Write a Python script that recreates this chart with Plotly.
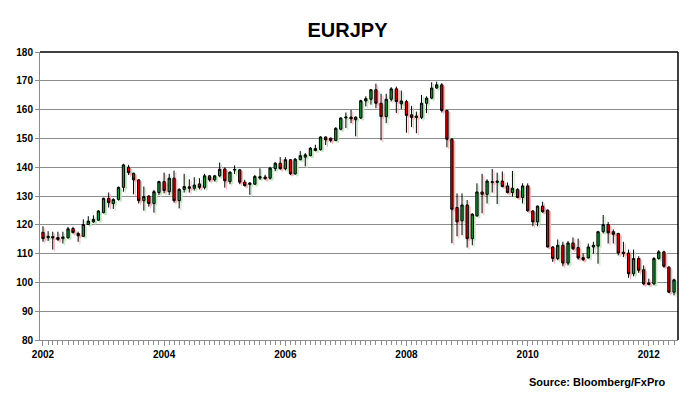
import pandas as pd
import plotly.graph_objects as go

start_month = "2002-01-01"

opens = [117.4, 115.5, 115.9, 115.6, 115.2, 115.5, 118.7, 117.0, 116.0, 120.1, 121.0, 121.6,
         124.2, 129.2, 127.4, 128.8, 133.0, 140.0, 137.9, 135.6, 128.4, 130.0, 127.4, 131.2,
         135.0, 131.5, 136.2, 128.4, 132.3, 133.2, 132.7, 134.2, 133.0, 137.0, 135.6, 137.0,
         139.4, 135.0, 139.0, 139.1, 134.8, 134.0, 134.1, 136.2, 136.6, 136.2, 139.5, 141.4,
         139.5, 142.6, 137.7, 142.6, 143.5, 144.0, 145.8, 146.1, 150.5, 150.1, 149.3, 153.2,
         157.1, 157.4, 156.5, 157.1, 163.0, 163.6, 166.9, 162.2, 157.6, 163.6, 167.2, 162.0,
         162.8, 158.2, 157.8, 157.3, 162.2, 164.0, 167.5, 168.6, 159.7, 149.7, 126.0, 121.4,
         126.9, 115.2, 123.1, 131.4, 130.6, 135.0, 134.7, 135.2, 133.5, 131.2, 132.3, 129.5,
         133.5, 124.8, 121.0, 126.5, 125.1, 112.3, 108.3, 112.9, 106.7, 113.7, 112.1, 108.6,
         108.5, 112.3, 112.6, 117.6, 120.1, 117.6, 117.0, 110.5, 110.2, 103.0, 108.3, 104.4,
         99.8, 99.5, 108.3, 110.6, 105.3, 96.6]

highs = [119.5, 117.8, 117.6, 117.6, 117.6, 119.3, 119.3, 117.6, 121.9, 123.0, 123.3, 125.1,
         129.4, 131.2, 129.2, 133.3, 141.2, 140.8, 138.1, 135.8, 133.3, 130.3, 132.1, 135.3,
         138.1, 137.7, 138.8, 132.7, 137.7, 135.8, 136.5, 136.2, 137.7, 137.2, 137.3, 141.6,
         139.9, 138.5, 140.6, 139.4, 135.6, 134.8, 137.3, 139.6, 137.4, 140.1, 141.7, 143.5,
         143.5, 142.8, 143.2, 145.6, 144.9, 147.0, 147.8, 150.7, 150.7, 150.3, 153.9, 157.3,
         159.0, 159.9, 157.6, 163.4, 164.6, 167.1, 169.0, 165.5, 165.5, 167.8, 168.0, 166.6,
         163.4, 161.3, 159.3, 165.1, 164.6, 169.5, 169.7, 169.2, 159.9, 150.1, 130.9, 130.9,
         128.6, 124.0, 134.4, 137.7, 135.8, 139.4, 138.1, 138.5, 134.7, 138.7, 132.7, 134.4,
         134.4, 125.1, 126.7, 128.0, 125.3, 112.6, 114.9, 114.1, 114.4, 115.6, 115.2, 110.0,
         113.5, 114.1, 117.9, 123.4, 121.0, 118.4, 117.2, 114.1, 111.4, 111.4, 109.1, 105.9,
         101.3, 108.8, 111.2, 111.0, 105.6, 101.3]

lows = [114.1, 114.4, 111.4, 114.4, 113.5, 115.2, 117.0, 114.1, 115.8, 119.9, 120.7, 121.4,
        124.0, 126.0, 125.5, 128.4, 131.5, 137.3, 130.6, 127.4, 124.9, 126.3, 124.2, 130.3,
        130.9, 130.3, 127.7, 125.7, 131.2, 131.2, 131.9, 132.3, 132.3, 135.0, 135.0, 136.5,
        132.9, 134.1, 137.6, 134.1, 133.3, 130.4, 133.9, 135.6, 135.7, 135.7, 138.6, 139.1,
        138.9, 137.3, 137.4, 142.4, 140.3, 143.8, 145.5, 145.8, 147.7, 148.6, 149.0, 152.8,
        153.6, 155.3, 150.7, 156.7, 161.1, 161.7, 160.5, 149.3, 155.3, 162.8, 158.8, 160.2,
        152.0, 153.9, 151.8, 156.7, 158.8, 163.6, 167.2, 159.0, 146.9, 113.6, 116.0, 116.4,
        112.1, 112.9, 122.8, 124.0, 127.4, 131.2, 127.2, 133.0, 130.9, 129.8, 129.2, 127.4,
        124.5, 119.5, 119.5, 124.2, 112.1, 107.1, 107.7, 105.6, 105.9, 111.2, 107.9, 107.4,
        108.3, 110.0, 106.5, 117.0, 113.5, 113.5, 109.4, 108.8, 101.6, 102.1, 103.3, 99.0,
        99.0, 99.0, 107.9, 105.1, 96.3, 95.5]

closes = [115.2, 116.0, 115.5, 114.9, 115.8, 118.6, 117.3, 116.2, 120.1, 121.3, 121.9, 124.8,
          129.2, 127.7, 128.8, 133.0, 140.8, 138.1, 135.6, 128.4, 129.8, 127.4, 131.5, 135.0,
          131.9, 136.2, 128.4, 132.3, 133.3, 132.7, 133.8, 133.0, 137.0, 135.6, 137.0, 139.3,
          135.3, 138.3, 139.2, 134.8, 133.6, 134.5, 136.8, 136.7, 136.0, 139.7, 141.4, 139.5,
          142.6, 137.7, 142.8, 144.0, 144.3, 146.6, 146.5, 150.5, 149.5, 149.3, 153.5, 157.1,
          157.4, 156.8, 157.4, 163.1, 163.8, 166.9, 162.2, 157.6, 163.6, 167.2, 162.8, 163.0,
          158.0, 157.3, 157.3, 162.2, 164.0, 167.5, 168.6, 159.7, 149.7, 125.4, 121.0, 126.9,
          115.2, 123.7, 131.4, 130.6, 135.2, 134.7, 135.2, 133.3, 131.2, 132.7, 129.5, 133.5,
          124.9, 121.0, 126.5, 124.5, 112.3, 108.3, 112.9, 106.7, 113.7, 111.7, 108.5, 107.9,
          112.3, 112.9, 117.6, 120.1, 117.2, 116.7, 110.2, 110.0, 103.0, 108.3, 104.2, 99.5,
          99.3, 108.3, 110.6, 105.6, 96.6, 100.9]

months = pd.date_range(start_month, periods=len(closes), freq="MS")

y_ticks = [80, 90, 100, 110, 120, 130, 140, 150, 160, 170, 180]

font_family = "Liberation Sans, Arial, sans-serif"
grid_color = "#8c8c8c"

x_range = ["2001-12-14", "2012-06-25"]
# shadow axes: same scale, shifted ~2px right / ~2px down
x_range_shadow = ["2001-12-03", "2012-06-14"]
y_range = [80, 180]
y_range_shadow = [80.6, 180.6]

fig = go.Figure()
# invisible trace that keeps the base (visible) axes alive
fig.add_trace(go.Scatter(
    x=months, y=closes, mode="lines", line=dict(width=0, color="rgba(0,0,0,0)"),
    hoverinfo="skip", showlegend=False,
))
# soft drop shadow of the candles (same data, drawn on offset overlay axes)
fig.add_trace(go.Candlestick(
    x=months, open=opens, high=highs, low=lows, close=closes,
    increasing=dict(fillcolor="#c2e8c2", line=dict(color="#c2e8c2", width=1)),
    decreasing=dict(fillcolor="#f5b5b5", line=dict(color="#f5b5b5", width=1)),
    whiskerwidth=0, showlegend=False, hoverinfo="skip",
    xaxis="x2", yaxis="y2",
))
# main candles on the top-most overlay
fig.add_trace(go.Candlestick(
    x=months, open=opens, high=highs, low=lows, close=closes,
    increasing=dict(fillcolor="#1f9138", line=dict(color="#000000", width=1)),
    decreasing=dict(fillcolor="#d40000", line=dict(color="#000000", width=1)),
    whiskerwidth=0,
    showlegend=False,
    xaxis="x3", yaxis="y3",
))

fig.update_layout(
    width=695, height=395,
    margin=dict(l=40, r=17, t=52, b=55),
    paper_bgcolor="white", plot_bgcolor="white",
    title=dict(text="<b>EURJPY</b>", x=0.5, xanchor="center", y=0.925, yanchor="middle",
               font=dict(family=font_family, size=20, color="#000000")),
    font=dict(family=font_family, size=10, color="#000000"),
    xaxis=dict(
        type="date",
        range=x_range,
        rangeslider=dict(visible=False),
        tick0="2002-01-01", dtick="M24", tickformat="%Y",
        ticks="outside", ticklen=5, tickcolor=grid_color,
        showline=True, linecolor=grid_color, linewidth=1,
        showgrid=False, zeroline=False,
        tickfont=dict(family=font_family, size=10, color="#000000", weight="bold"),
        minor=dict(dtick="M1", tick0="2002-01-01", ticks="outside", ticklen=4,
                   tickcolor=grid_color, showgrid=False),
    ),
    xaxis2=dict(type="date", range=x_range_shadow, overlaying="x", visible=False,
                rangeslider=dict(visible=False)),
    xaxis3=dict(type="date", range=x_range, overlaying="x", visible=False,
                rangeslider=dict(visible=False)),
    yaxis=dict(
        range=y_range, tickvals=y_ticks,
        ticks="outside", ticklen=4, tickcolor=grid_color,
        showline=True, linecolor=grid_color, linewidth=1,
        showgrid=True, gridcolor=grid_color, gridwidth=1,
        zeroline=False,
        tickfont=dict(family=font_family, size=10, color="#000000", weight="bold"),
    ),
    yaxis2=dict(range=y_range_shadow, overlaying="y", visible=False),
    yaxis3=dict(range=y_range, overlaying="y", visible=False),
    shapes=[
        dict(type="line", xref="paper", yref="paper", x0=0, x1=1, y0=1, y1=1,
             line=dict(color="#000000", width=1.5)),
        dict(type="line", xref="paper", yref="paper", x0=1, x1=1, y0=0, y1=1,
             line=dict(color="#000000", width=1.5)),
    ],
    annotations=[
        dict(text="<b>Source: Bloomberg/FxPro</b>", xref="paper", yref="paper",
             x=0.985, y=-0.146, xanchor="right", yanchor="middle", showarrow=False,
             font=dict(family=font_family, size=11, color="#000000")),
    ],
)

fig.write_html("out.html", config={"displayModeBar": False},
               post_script="document.body.style.margin='0px';")
